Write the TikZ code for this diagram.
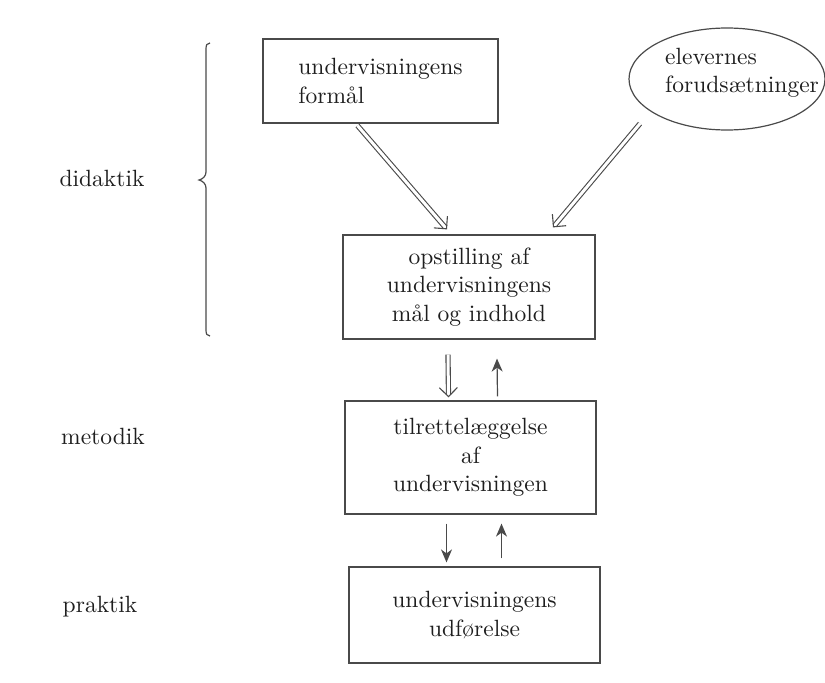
\documentclass[tikz,border=0pt]{standalone}
\usepackage{fontspec}
\setmainfont{lmroman10-regular.otf}
\usetikzlibrary{arrows.meta,shapes.geometric,calc}
\definecolor{ink}{HTML}{1E1E1E}
\definecolor{rule}{HTML}{4A4A4A}
\begin{document}
\begin{tikzpicture}[x=1pt,y=-1pt,
  txt/.style={font=\fontsize{23.5}{28.5}\selectfont, text=ink, inner sep=0pt},
  boxnode/.style={draw=rule, line width=1.2pt, inner sep=0pt, font=\fontsize{23.5}{28.5}\selectfont, text=ink, align=center},
  dblshaft/.style={draw=rule, double=white, double distance=3pt, line width=1.1pt, shorten >=2.6pt},
  dblhead/.style={draw=white, line width=1.1pt, -{Straight Barb[color=rule,length=9pt,width=18pt]}},
  sgl/.style={draw=rule, line width=1.2pt, -{Stealth[length=13pt,width=11pt,inset=4pt]}}]
\useasboundingbox (0,0) rectangle (825,683);
\fill[white] (0,0) rectangle (825,683);

% boxes
\node[boxnode, minimum width=235pt, minimum height=84pt, align=left] (b1) at (380.5,81) {undervisningens\\formål};
\node[ellipse, draw=rule, line width=1.2pt, minimum width=196pt, minimum height=102pt, inner sep=0pt] (el) at (727,79) {};
\node[txt, align=left, anchor=west] (elt) at (665,73) {elevernes\\forudsætninger};
\node[boxnode, minimum width=252pt, minimum height=104pt] (b2) at (469,287) {opstilling af\\undervisningens\\mål og indhold};
\node[boxnode, minimum width=251pt, minimum height=113pt] (b3) at (470.5,457.5) {tilrettelæggelse\\af\\undervisningen};
\node[boxnode, minimum width=251pt, minimum height=96pt] (b4) at (474.5,615) {undervisningens\\udførelse};

% side labels
\node[txt] (did) at (102,178) {didaktik};
\node[txt] (met) at (103,436) {metodik};
\node[txt] (pra) at (100,607) {praktik};

% brace
\draw[rule, line width=1.2pt] (210,43) .. controls (207,43) and (206,45) .. (206,49)
  -- (206,172) .. controls (206,176) and (203,179) .. (199,180)
  .. controls (203,181) and (206,184) .. (206,188)
  -- (206,330) .. controls (206,334) and (207,336) .. (210,336);

% connector end points
\coordinate (a1) at ($(b1.south)+(-23,2)$);
\coordinate (a2) at ($(b2.north)+(-22,-5)$);
\coordinate (c1) at ($(el.south)+(-87,-7)$);
\coordinate (c2) at ($(b2.north)+(84,-7)$);
\coordinate (d1) at ($(b2.south)+(-21,15)$);
\coordinate (d2) at ($(b3.north)+(-22,-3)$);

% double connectors
\draw[dblshaft] (a1) -- (a2);
\draw[dblhead] (a1) -- (a2);
\draw[dblshaft] (c1) -- (c2);
\draw[dblhead] (c1) -- (c2);
\draw[dblshaft] (d1) -- (d2);
\draw[dblhead] (d1) -- (d2);

% single connectors
\draw[sgl] ($(b3.north)+(27,-4)$) -- ($(b2.south)+(28,19)$);
\draw[sgl] ($(b3.south)+(-24,9)$) -- ($(b4.north)+(-28,-4)$);
\draw[sgl] ($(b4.north)+(27,-8)$) -- ($(b3.south)+(31,9)$);
\end{tikzpicture}
\end{document}
